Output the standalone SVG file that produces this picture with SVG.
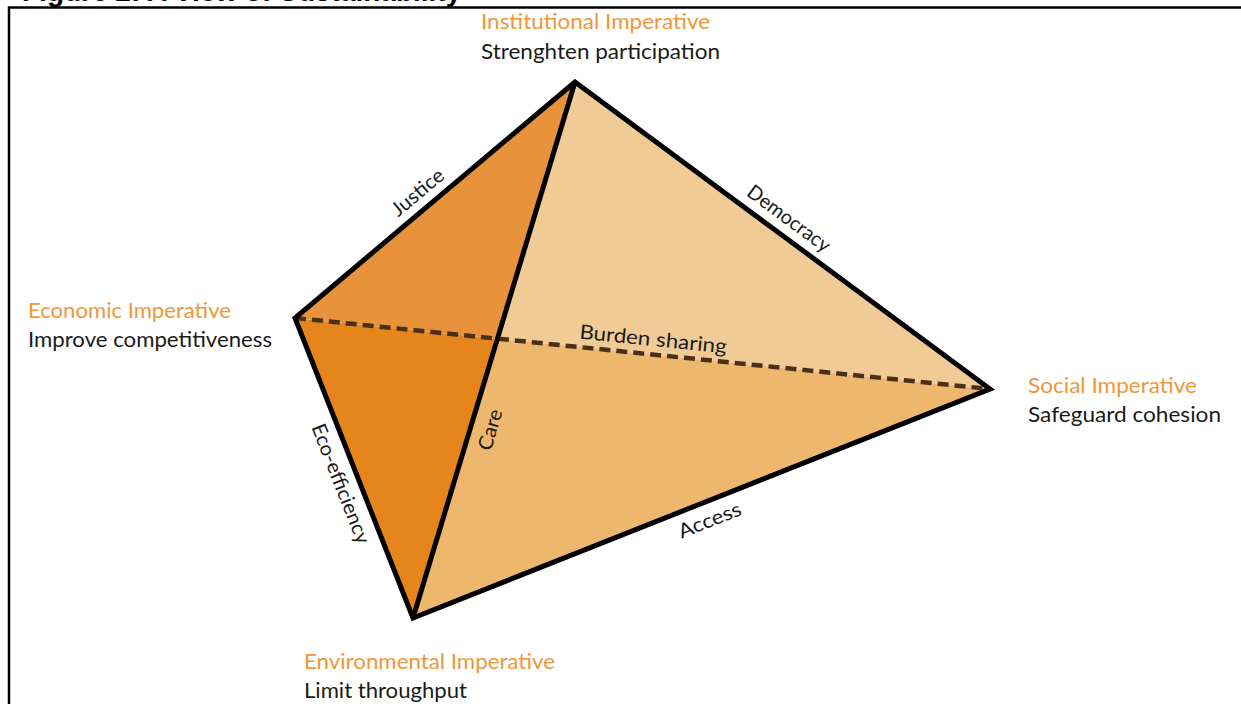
<svg xmlns="http://www.w3.org/2000/svg" width="1241" height="704" viewBox="0 0 1241 704">
<style>
.title{font-family:"Liberation Sans",Arial,sans-serif;font-weight:bold;font-size:28px;fill:#000}
.imp{font-family:Lato,"Open Sans",sans-serif;font-size:21px;fill:#F0963A}
.sub{font-family:Lato,"Open Sans",sans-serif;font-size:21px;fill:#1a1a1a}
.edge-label{font-family:Lato,"Open Sans",sans-serif;font-size:20px;fill:#1a1a1a;text-anchor:middle}
.edge{fill:none;stroke:#000;stroke-width:5;stroke-linejoin:miter;stroke-miterlimit:10}
.hidden-edge{fill:none;stroke:#4A3016;stroke-width:4.5;stroke-dasharray:11 6}
</style>
<rect x="0" y="0" width="1241" height="704" fill="#fff"/>
<text class="title" x="22" y="1">Figure 2: A View of Sustainability</text>
<path d="M9,704 V7.5 H1241" fill="none" stroke="#000" stroke-width="2.5"/>

<g id="faces">
  <polygon points="575,82 295,318 497.4,338.7" fill="#E8923C"/>
  <polygon points="295,318 497.4,338.7 413,618" fill="#E6851C"/>
  <polygon points="575,82 497.4,338.7 990,389" fill="#F0CB95"/>
  <polygon points="497.4,338.7 413,618 990,389" fill="#EDB86E"/>
</g>

<g id="connectors">
  <line class="hidden-edge" x1="295" y1="318" x2="984" y2="388.4"/>
  <path class="edge" d="M575,82 L990,389 L413,618 L295,318 Z"/>
  <line class="edge" x1="575" y1="82" x2="413" y2="618"/>
  <text class="edge-label" transform="translate(422,197.6) rotate(-40.1)" textLength="62" lengthAdjust="spacingAndGlyphs">Justice</text>
  <text class="edge-label" transform="translate(785,224) rotate(36.5)" textLength="98" lengthAdjust="spacingAndGlyphs">Democracy</text>
  <text class="edge-label" transform="translate(652.5,346) rotate(5.8)" textLength="148" lengthAdjust="spacingAndGlyphs">Burden sharing</text>
  <text class="edge-label" transform="translate(496.7,431.7) rotate(-73.2)" textLength="42" lengthAdjust="spacingAndGlyphs">Care</text>
  <text class="edge-label" transform="translate(334.4,486.2) rotate(68.5)" textLength="127" lengthAdjust="spacingAndGlyphs">Eco-efficiency</text>
  <text class="edge-label" transform="translate(712.2,526.6) rotate(-21.6)" textLength="66" lengthAdjust="spacingAndGlyphs">Access</text>
</g>

<g id="node-institutional">
  <text class="imp" x="481" y="29" textLength="229" lengthAdjust="spacingAndGlyphs">Institutional Imperative</text>
  <text class="sub" x="481" y="59" textLength="239" lengthAdjust="spacingAndGlyphs">Strenghten participation</text>
</g>
<g id="node-economic">
  <text class="imp" x="28" y="318" textLength="203" lengthAdjust="spacingAndGlyphs">Economic Imperative</text>
  <text class="sub" x="28" y="347" textLength="244" lengthAdjust="spacingAndGlyphs">Improve competitiveness</text>
</g>
<g id="node-social">
  <text class="imp" x="1028" y="393" textLength="169" lengthAdjust="spacingAndGlyphs">Social Imperative</text>
  <text class="sub" x="1028" y="422" textLength="193" lengthAdjust="spacingAndGlyphs">Safeguard cohesion</text>
</g>
<g id="node-environmental">
  <text class="imp" x="304" y="669" textLength="251" lengthAdjust="spacingAndGlyphs">Environmental Imperative</text>
  <text class="sub" x="304" y="698" textLength="163" lengthAdjust="spacingAndGlyphs">Limit throughput</text>
</g>
</svg>
